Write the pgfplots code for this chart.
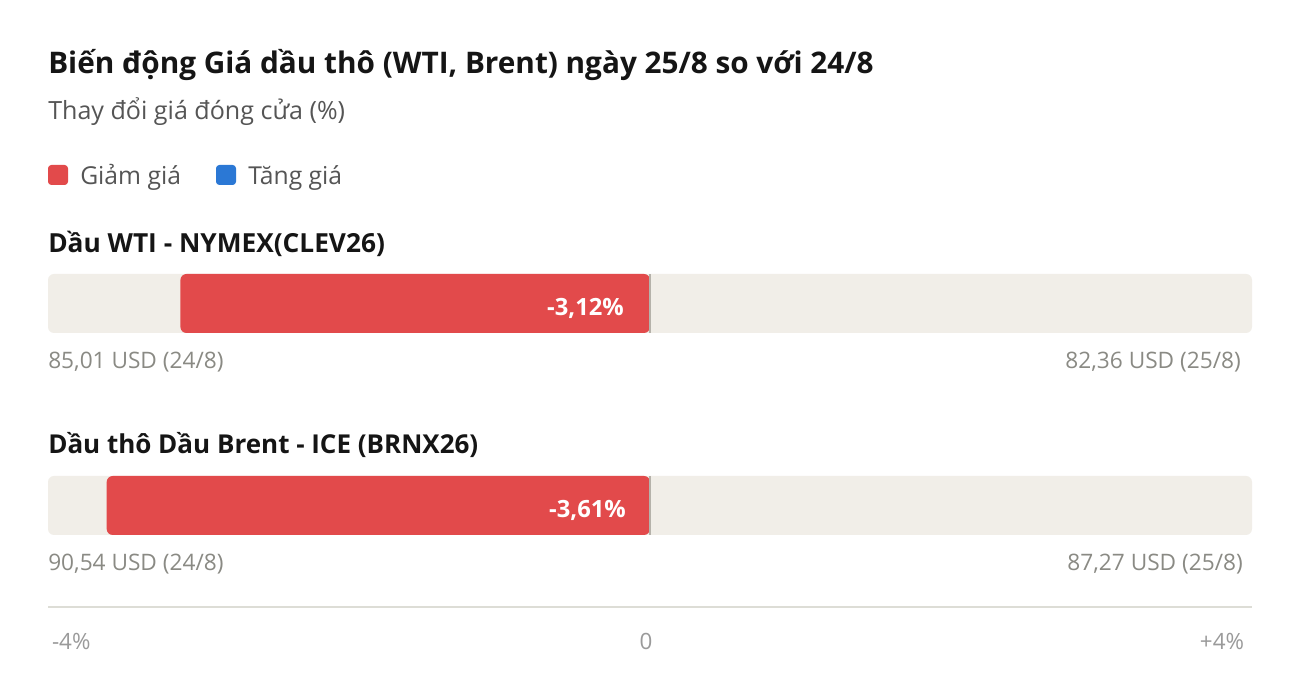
\documentclass[border=0pt]{standalone}
\usepackage{pgfplots}
\pgfplotsset{compat=1.18}
\usepackage{fontspec}
\setmainfont{Open Sans}
\definecolor{redc}{HTML}{E24A4B}
\definecolor{bluec}{HTML}{2B78D5}
\definecolor{trackc}{HTML}{F1EEE8}
\definecolor{zeroc}{HTML}{B5B2AA}
\definecolor{linec}{HTML}{DDDDD6}
\definecolor{titlec}{HTML}{151515}
\definecolor{subc}{HTML}{555555}
\definecolor{valc}{HTML}{8A8A84}
\definecolor{tickc}{HTML}{9A9A9A}
\newcommand{\fs}[1]{\fontsize{#1}{#1}\selectfont}
\begin{document}
\begin{tikzpicture}
\fill[white] (0,0) rectangle (975pt,519pt);
\begin{axis}[
  at={(36pt,63.75pt)}, anchor=south west,
  scale only axis, width=903pt, height=249.75pt,
  xmin=-4, xmax=4, ymin=-0.5025, ymax=1.146,
  xbar, bar width=44.25pt,
  axis y line=none, axis x line*=bottom,
  x axis line style={draw=linec, line width=1.5pt, -},
  xtick={-4,0,4},
  xticklabels={\makebox[0pt][l]{\hspace{3pt}-4\%}, \makebox[0pt]{\hspace{-6pt}0}, \makebox[0pt][r]{+4\%\hspace{6pt}}},
  xticklabel style={anchor=base, yshift=-32pt, font=\fs{16.8}, text=tickc, inner sep=0pt},
  major tick length=0pt, ytick=\empty,
  clip=false,
]
\fill[trackc, rounded corners=4.5pt] (axis cs:-4,0.854) rectangle (axis cs:4,1.146);
\fill[trackc, rounded corners=4.5pt] (axis cs:-4,-0.146) rectangle (axis cs:4,0.146);
\addplot[fill=redc, draw=none, rounded corners=4.5pt] coordinates {(-3.12,1) (-3.61,0)};
\draw[zeroc, line width=1.5pt] (axis cs:0,0.854) -- (axis cs:0,1.146);
\draw[zeroc, line width=1.5pt] (axis cs:0,-0.146) -- (axis cs:0,0.146);
\node[anchor=base east, inner sep=0pt, text=white, font=\bfseries\fs{17.8}] at (axis cs:0,1) [xshift=-19.5pt, yshift=-9pt] {-3,12\%};
\node[anchor=base east, inner sep=0pt, text=white, font=\bfseries\fs{17.8}] at (axis cs:0,0) [xshift=-18pt, yshift=-9pt] {-3,61\%};
\end{axis}
\begin{scope}[x=0.75pt, y=-0.75pt, shift={(0pt,519pt)}]
\node[anchor=base west, inner sep=0pt, text=titlec, font=\bfseries\fs{22.3}] at (48,74) {Biến động Giá dầu thô (WTI, Brent) ngày 25/8 so với 24/8};
\node[anchor=base west, inner sep=0pt, text=subc, font=\fs{18.8}] at (48,119.5) {Thay đổi giá đóng cửa (\%)};
\fill[redc, rounded corners=2.5pt] (48,165) rectangle (68,185);
\node[anchor=base west, inner sep=0pt, text=subc, font=\fs{18.5}] at (80,185) {Giảm giá};
\fill[bluec, rounded corners=2.5pt] (216,165) rectangle (236,185);
\node[anchor=base west, inner sep=0pt, text=subc, font=\fs{18.5}] at (248,185) {Tăng giá};
\node[anchor=base west, inner sep=0pt, text=titlec, font=\bfseries\fs{19.7}] at (48,253) {Dầu WTI - NYMEX(CLEV26)};
\node[anchor=base west, inner sep=0pt, text=titlec, font=\bfseries\fs{19.5}] at (48,454) {Dầu thô Dầu Brent - ICE (BRNX26)};
\node[anchor=base west, inner sep=0pt, text=valc, font=\fs{17}] at (48,369) {85,01 USD (24/8)};
\node[anchor=base east, inner sep=0pt, text=valc, font=\fs{17}] at (1241,369) {82,36 USD (25/8)};
\node[anchor=base west, inner sep=0pt, text=valc, font=\fs{17}] at (48,571) {90,54 USD (24/8)};
\node[anchor=base east, inner sep=0pt, text=valc, font=\fs{17}] at (1243,571) {87,27 USD (25/8)};
\end{scope}
\end{tikzpicture}
\end{document}
